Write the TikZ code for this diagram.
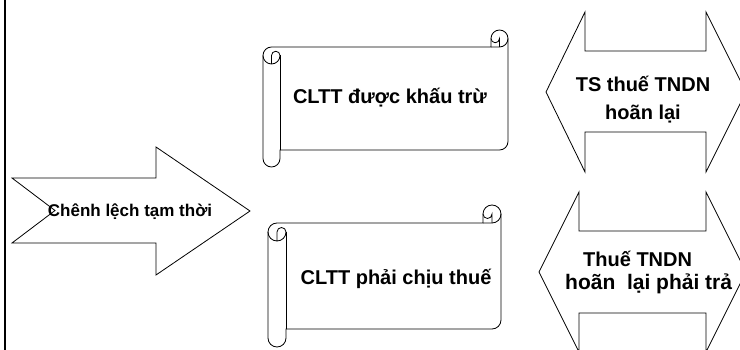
\documentclass[tikz,border=0pt]{standalone}
\usepackage{fontspec}
\setmainfont{Liberation Sans}
% horizontal scroll: left, top, right, bottom, roll size
\newcommand\hscroll[5]{%
  \pgfmathsetmacro\scL{#1}\pgfmathsetmacro\scT{#2}%
  \pgfmathsetmacro\scR{#3}\pgfmathsetmacro\scB{#4}%
  \pgfmathsetmacro\scC{#5}\pgfmathsetmacro\scH{#5/2}\pgfmathsetmacro\scQ{#5/4}%
  \draw[shape line] (\scL,\scT+1.5*\scC) arc[start angle=180,delta angle=90,radius=\scH]
    -- (\scR-\scC,\scT+\scC) -- (\scR-\scC,\scT+\scH)
    arc[start angle=180,delta angle=180,radius=\scH]
    -- (\scR,\scB-1.5*\scC)
    arc[start angle=0,delta angle=90,radius=\scH]
    -- (\scL+\scC,\scB-\scC) -- (\scL+\scC,\scB-\scH)
    arc[start angle=0,delta angle=180,radius=\scH]
    -- cycle;
  \draw[roll line] (\scR-\scC,\scT+\scC) -- (\scR-\scH,\scT+\scC)
    arc[start angle=90,delta angle=-90,radius=\scH];
  \draw[roll line] (\scR-\scH,\scT+\scC) -- (\scR-\scH,\scT+\scH)
    arc[start angle=0,delta angle=180,radius=\scQ];
  \draw[roll line] (\scL+\scH,\scT+2*\scC) -- (\scL+\scH,\scT+1.5*\scC)
    arc[start angle=180,delta angle=180,radius=\scQ]
    arc[start angle=0,delta angle=180,radius=\scH];
  \draw[roll line] (\scL+\scC,\scT+1.5*\scC) -- (\scL+\scC,\scB-\scC);
}
\begin{document}
\begin{tikzpicture}[x=1pt,y=-1pt,
  shape line/.style={draw=black,line width=0.8pt,fill=white,line join=miter},
  roll line/.style={draw=black,line width=0.8pt},
  big text/.style={font=\bfseries\fontsize{20}{28}\selectfont,inner sep=0pt,align=center},
  mid text/.style={font=\bfseries\fontsize{17}{20}\selectfont,inner sep=0pt},
]
\useasboundingbox (0,0) rectangle (740,350);
\clip (0,0) rectangle (740,350);
\fill[white] (0,0) rectangle (740,350);

% left border line
\coordinate (railtop) at (5,0);
\coordinate (railbot) at (5,350);
\draw[line width=2pt] (railtop) -- (railbot);

% notched arrow
\draw[shape line] (12,178) -- (156,178) -- (156,147) -- (250,211) -- (156,275)
  -- (156,243) -- (12,243) -- (55,210.5) -- cycle;
\node[mid text,anchor=base] (chenh) at (130,216.5) {Chênh lệch tạm thời};

% scrolls
\hscroll{263}{30}{508}{167}{17}
\node[big text,anchor=base] (duockt) at (390,104) {CLTT được khấu trừ};
\hscroll{268}{205}{501}{347}{18}
\node[big text,anchor=base] (phaict) at (396,285) {CLTT phải chịu thuế};

% double arrows
\draw[shape line] (546,92) -- (585,12) -- (585,51) -- (706,51) -- (706,12) -- (746,92)
  -- (706,172) -- (706,132) -- (585,132) -- (585,172) -- cycle;
\node[big text,anchor=base] (tsthue) at (643,92) {TS thuế TNDN};
\node[big text,anchor=base] (tshoan) at (643,120) {hoãn lại};

\draw[shape line] (539,272) -- (579,192) -- (579,231) -- (706,231) -- (706,192) -- (746,272)
  -- (706,352) -- (706,313) -- (579,313) -- (579,352) -- cycle;
\node[big text,anchor=base west] (thue) at (583,267) {Thuế TNDN};
\node[big text,anchor=base west,font=\bfseries\fontsize{21}{28}\selectfont] (phaitra) at (565,290) {hoãn\ \ lại phải trả};
\end{tikzpicture}
\end{document}
